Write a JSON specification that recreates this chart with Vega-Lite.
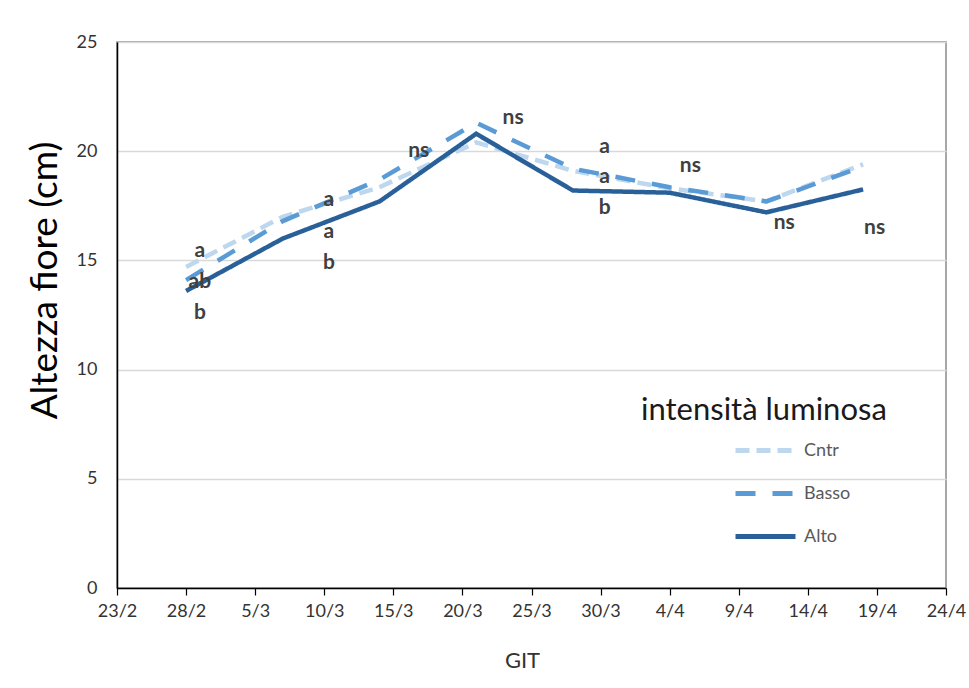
{
  "$schema": "https://vega.github.io/schema/vega-lite/v6.json",
  "autosize": {"type": "none"},
  "padding": {"left": 117, "top": 42, "right": 23, "bottom": 100},
  "width": 829,
  "height": 546,
  "background": "white",
  "config": {
    "font": "Lato",
    "view": {"stroke": "#8a8a8a", "strokeWidth": 1.5}
  },
  "datasets": {
    "series": [
      {"date": "2019-02-28T00:00:00", "intensita": "Cntr", "altezza": 14.7},
      {"date": "2019-03-07T00:00:00", "intensita": "Cntr", "altezza": 17.0},
      {"date": "2019-03-14T00:00:00", "intensita": "Cntr", "altezza": 18.35},
      {"date": "2019-03-21T00:00:00", "intensita": "Cntr", "altezza": 20.4},
      {"date": "2019-03-28T00:00:00", "intensita": "Cntr", "altezza": 19.1},
      {"date": "2019-04-04T00:00:00", "intensita": "Cntr", "altezza": 18.3},
      {"date": "2019-04-11T00:00:00", "intensita": "Cntr", "altezza": 17.7},
      {"date": "2019-04-18T00:00:00", "intensita": "Cntr", "altezza": 19.4},
      {"date": "2019-02-28T00:00:00", "intensita": "Basso", "altezza": 14.1},
      {"date": "2019-03-07T00:00:00", "intensita": "Basso", "altezza": 16.8},
      {"date": "2019-03-14T00:00:00", "intensita": "Basso", "altezza": 18.7},
      {"date": "2019-03-21T00:00:00", "intensita": "Basso", "altezza": 21.3},
      {"date": "2019-03-28T00:00:00", "intensita": "Basso", "altezza": 19.2},
      {"date": "2019-04-04T00:00:00", "intensita": "Basso", "altezza": 18.35},
      {"date": "2019-04-11T00:00:00", "intensita": "Basso", "altezza": 17.7},
      {"date": "2019-04-18T00:00:00", "intensita": "Basso", "altezza": 19.3},
      {"date": "2019-02-28T00:00:00", "intensita": "Alto", "altezza": 13.6},
      {"date": "2019-03-07T00:00:00", "intensita": "Alto", "altezza": 16.0},
      {"date": "2019-03-14T00:00:00", "intensita": "Alto", "altezza": 17.7},
      {"date": "2019-03-21T00:00:00", "intensita": "Alto", "altezza": 20.8},
      {"date": "2019-03-28T00:00:00", "intensita": "Alto", "altezza": 18.2},
      {"date": "2019-04-04T00:00:00", "intensita": "Alto", "altezza": 18.1},
      {"date": "2019-04-11T00:00:00", "intensita": "Alto", "altezza": 17.2},
      {"date": "2019-04-18T00:00:00", "intensita": "Alto", "altezza": 18.25}
    ],
    "labels": [
      {"date": "2019-03-01T00:00:00", "y": 15.45, "label": "a"},
      {"date": "2019-03-01T00:00:00", "y": 14.0, "label": "ab"},
      {"date": "2019-03-01T00:00:00", "y": 12.6, "label": "b"},
      {"date": "2019-03-10T08:00:00", "y": 17.75, "label": "a"},
      {"date": "2019-03-10T08:00:00", "y": 16.3, "label": "a"},
      {"date": "2019-03-10T08:00:00", "y": 14.9, "label": "b"},
      {"date": "2019-03-16T20:00:00", "y": 20.0, "label": "ns"},
      {"date": "2019-03-23T16:00:00", "y": 21.5, "label": "ns"},
      {"date": "2019-03-30T07:00:00", "y": 20.2, "label": "a"},
      {"date": "2019-03-30T07:00:00", "y": 18.8, "label": "a"},
      {"date": "2019-03-30T07:00:00", "y": 17.4, "label": "b"},
      {"date": "2019-04-05T12:00:00", "y": 19.3, "label": "ns"},
      {"date": "2019-04-12T07:00:00", "y": 16.7, "label": "ns"},
      {"date": "2019-04-18T20:00:00", "y": 16.5, "label": "ns"}
    ]
  },
  "layer": [
    {
      "data": {"name": "series"},
      "mark": {"type": "line", "strokeWidth": 4.5, "strokeCap": "butt"},
      "encoding": {
        "x": {
          "field": "date",
          "type": "temporal",
          "scale": {
            "domain": [
              {"year": 2019, "month": 2, "date": 23},
              {"year": 2019, "month": 4, "date": 24}
            ]
          },
          "axis": {
            "title": "GIT",
            "titleFont": "Lato",
            "titleFontSize": 22,
            "titleFontWeight": "normal",
            "titleColor": "#333333",
            "titleX": 405,
            "titleY": 72,
            "titleBaseline": "middle",
            "format": "%-d/%-m",
            "values": [
              {"year": 2019, "month": 2, "date": 23},
              {"year": 2019, "month": 2, "date": 28},
              {"year": 2019, "month": 3, "date": 5},
              {"year": 2019, "month": 3, "date": 10},
              {"year": 2019, "month": 3, "date": 15},
              {"year": 2019, "month": 3, "date": 20},
              {"year": 2019, "month": 3, "date": 25},
              {"year": 2019, "month": 3, "date": 30},
              {"year": 2019, "month": 4, "date": 4},
              {"year": 2019, "month": 4, "date": 9},
              {"year": 2019, "month": 4, "date": 14},
              {"year": 2019, "month": 4, "date": 19},
              {"year": 2019, "month": 4, "date": 24}
            ],
            "grid": false,
            "domainColor": "#000000",
            "domainWidth": 1.5,
            "tickColor": "#000000",
            "tickSize": 7,
            "tickWidth": 1.2,
            "labelFontSize": 18,
            "labelColor": "#333333",
            "labelPadding": 7,
            "labelFlush": false,
            "labelOverlap": false
          }
        },
        "y": {
          "field": "altezza",
          "type": "quantitative",
          "scale": {"domain": [0, 25], "nice": false},
          "axis": {
            "title": "Altezza fiore (cm)",
            "titleFont": "Lato",
            "titleFontSize": 37,
            "titleFontWeight": "normal",
            "titleColor": "#000000",
            "titleX": -72,
            "titleY": 238,
            "titleAngle": -90,
            "titleAlign": "center",
            "titleBaseline": "middle",
            "values": [0, 5, 10, 15, 20, 25],
            "grid": true,
            "gridColor": "#d9d9d9",
            "gridWidth": 1.5,
            "domainColor": "#000000",
            "domainWidth": 1.5,
            "ticks": false,
            "labelFontSize": 18,
            "labelColor": "#333333",
            "labelPadding": 20
          }
        },
        "color": {
          "field": "intensita",
          "type": "nominal",
          "scale": {
            "domain": ["Cntr", "Basso", "Alto"],
            "range": ["#bdd7ee", "#5b9bd5", "#2a6099"]
          },
          "legend": {
            "title": "intensità luminosa",
            "orient": "none",
            "legendX": 524,
            "legendY": 354,
            "titleFont": "Lato",
            "titleFontSize": 31,
            "titleFontWeight": "normal",
            "titleColor": "#1a1a1a",
            "titleLimit": 400,
            "titlePadding": -9,
            "symbolType": "stroke",
            "symbolSize": 3600,
            "symbolStrokeWidth": 5,
            "symbolOffset": 92,
            "labelFontSize": 18,
            "labelColor": "#595959",
            "labelOffset": 6,
            "rowPadding": -22
          }
        },
        "strokeDash": {
          "field": "intensita",
          "type": "nominal",
          "scale": {
            "domain": ["Cntr", "Basso", "Alto"],
            "range": [[14, 7], [20, 17], [1, 0]]
          },
          "legend": null
        }
      }
    },
    {
      "data": {"name": "labels"},
      "mark": {"type": "text", "font": "Lato", "fontWeight": "bold", "fontSize": 21, "color": "#404040", "baseline": "middle", "align": "center"},
      "encoding": {
        "x": {"field": "date", "type": "temporal"},
        "y": {"field": "y", "type": "quantitative"},
        "text": {"field": "label", "type": "nominal"}
      }
    }
  ]
}
